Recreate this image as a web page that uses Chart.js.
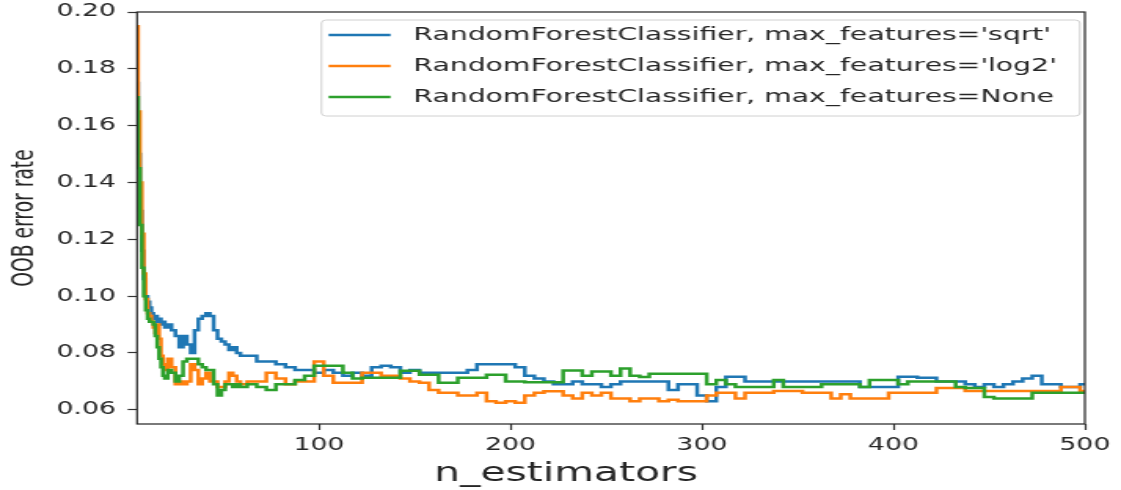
<!DOCTYPE html>
<html>
<head>
<meta charset="utf-8">
<script src="https://cdn.jsdelivr.net/npm/chart.js@4.4.0/dist/chart.umd.min.js"></script>
<style>
  html, body { margin: 0; padding: 0; background: #fff; }
  #frame { width: 1121px; height: 490px; overflow: hidden; }
  /* the reference image is stretched sideways, so draw narrow and stretch */
  #stretch { width: 714px; height: 490px; transform: scaleX(1.57); transform-origin: 0 0; }
</style>
</head>
<body>
<div id="frame"><div id="stretch"><canvas id="oob"></canvas></div></div>
<script>
const range = (a, b, step) => { const r = []; for (let v = a; v <= b; v += step) r.push(v); return r; };

// x grid: every estimator count early on, coarser later
const nEstimators = [...range(5, 20, 1), ...range(22, 60, 2), ...range(65, 500, 5)];

const errSqrt = [
  0.175, 0.150, 0.130, 0.116, 0.106, 0.100, 0.098, 0.096, 0.094, 0.092, 0.093, 0.091, 0.092, 0.090, 0.091, 0.089,
  0.090, 0.088, 0.086, 0.082, 0.086, 0.083, 0.080, 0.088, 0.092, 0.093, 0.094, 0.093, 0.088, 0.085, 0.084, 0.083, 0.081, 0.082, 0.080, 0.079,
  0.079, 0.077, 0.077, 0.076, 0.075, 0.074, 0.074, 0.073, 0.074, 0.073, 0.072, 0.073, 0.072,
  0.075, 0.0755, 0.075, 0.073, 0.074, 0.073, 0.073, 0.073, 0.073, 0.073, 0.074, 0.076, 0.076, 0.076, 0.076,
  0.075, 0.072, 0.071, 0.070, 0.069, 0.069, 0.070, 0.069, 0.069, 0.068, 0.069, 0.070, 0.070, 0.070, 0.070, 0.070, 0.067, 0.069, 0.069, 0.065,
  0.063, 0.068, 0.0716, 0.0716, 0.070, 0.070, 0.070, 0.070, 0.070, 0.070, 0.070, 0.070, 0.070, 0.070, 0.070, 0.070, 0.068, 0.068, 0.068, 0.068,
  0.0716, 0.0716, 0.0713, 0.0713, 0.070, 0.070, 0.070, 0.069, 0.068, 0.069, 0.068, 0.069, 0.070, 0.071, 0.072, 0.069, 0.069, 0.068, 0.068, 0.069
];
const errLog2 = [
  0.195, 0.165, 0.140, 0.122, 0.108, 0.099, 0.094, 0.093, 0.091, 0.089, 0.087, 0.090, 0.085, 0.079, 0.076, 0.074,
  0.078, 0.075, 0.069, 0.070, 0.069, 0.070, 0.076, 0.074, 0.069, 0.071, 0.073, 0.070, 0.070, 0.068, 0.068, 0.070, 0.073, 0.072, 0.070, 0.069,
  0.070, 0.070, 0.073, 0.071, 0.069, 0.070, 0.070, 0.077, 0.072, 0.0695, 0.0695, 0.0695, 0.073,
  0.073, 0.072, 0.072, 0.071, 0.070, 0.0695, 0.067, 0.066, 0.066, 0.065, 0.065, 0.066, 0.063, 0.0625, 0.063,
  0.0625, 0.065, 0.066, 0.0665, 0.0665, 0.065, 0.064, 0.066, 0.065, 0.066, 0.064, 0.064, 0.063, 0.064, 0.064, 0.063, 0.0635, 0.063, 0.063, 0.063,
  0.065, 0.066, 0.066, 0.064, 0.066, 0.066, 0.066, 0.0666, 0.0666, 0.0666, 0.066, 0.066, 0.066, 0.064, 0.0655, 0.064, 0.064, 0.064, 0.064, 0.066,
  0.066, 0.066, 0.066, 0.066, 0.0677, 0.0677, 0.0677, 0.0666, 0.0666, 0.0666, 0.0666, 0.0666, 0.0666, 0.0666, 0.0666, 0.0666, 0.0666, 0.068, 0.068, 0.0666
];
const errNone = [
  0.170, 0.145, 0.125, 0.110, 0.100, 0.095, 0.092, 0.091, 0.091, 0.090, 0.086, 0.082, 0.078, 0.075, 0.072, 0.071,
  0.074, 0.073, 0.070, 0.072, 0.077, 0.078, 0.078, 0.078, 0.076, 0.075, 0.074, 0.074, 0.069, 0.065, 0.067, 0.069, 0.069, 0.068, 0.069, 0.068,
  0.069, 0.068, 0.067, 0.069, 0.069, 0.0705, 0.072, 0.0755, 0.0755, 0.0755, 0.073, 0.071, 0.0713,
  0.0713, 0.0713, 0.0713, 0.0737, 0.0737, 0.0723, 0.0723, 0.0695, 0.0695, 0.0713, 0.0713, 0.0713, 0.0723, 0.0723, 0.070,
  0.070, 0.0697, 0.0697, 0.0697, 0.0697, 0.0738, 0.0738, 0.072, 0.0735, 0.0735, 0.072, 0.0745, 0.072, 0.0715, 0.0727, 0.0727, 0.0727, 0.0727, 0.0727, 0.0727,
  0.069, 0.0705, 0.069, 0.068, 0.068, 0.068, 0.068, 0.0705, 0.068, 0.068, 0.068, 0.068, 0.069, 0.069, 0.069, 0.069, 0.068, 0.0705, 0.0705, 0.0705,
  0.069, 0.070, 0.070, 0.070, 0.070, 0.070, 0.068, 0.0677, 0.0677, 0.0645, 0.064, 0.064, 0.064, 0.064, 0.066, 0.066, 0.066, 0.066, 0.066, 0.066
];

const seriesLabels = [
  "RandomForestClassifier, max_features='sqrt'",
  "RandomForestClassifier, max_features='log2'",
  "RandomForestClassifier, max_features=None"
];
const seriesColors = ["#1f77b4", "#ff7f0e", "#2ca02c"];
const xTicks = [100, 200, 300, 400, 500];
const yTicks = [0.06, 0.08, 0.10, 0.12, 0.14, 0.16, 0.18, 0.20];

const FONT = '"DejaVu Sans", sans-serif';
Chart.defaults.font.family = FONT;
Chart.defaults.color = "#262626";

const toPoints = ys => nEstimators.map((n, i) => ({ x: n, y: ys[i] }));

// spines on all four sides
const spines = {
  id: "spines",
  afterDatasetsDraw(chart) {
    const { ctx, chartArea: a } = chart;
    ctx.save();
    ctx.strokeStyle = "#222";
    ctx.lineWidth = 1.2;
    ctx.strokeRect(a.left, a.top, a.right - a.left, a.bottom - a.top);
    ctx.restore();
  }
};

// x label sits a little left of the axis centre in the reference
const xLabel = {
  id: "xLabel",
  afterDraw(chart) {
    const { ctx } = chart;
    ctx.save();
    ctx.font = "26px " + FONT;
    ctx.fillStyle = "#262626";
    ctx.textAlign = "center";
    ctx.textBaseline = "middle";
    ctx.fillText("n_estimators", 360.5, 474);
    ctx.restore();
  }
};

// matplotlib-style legend box in the upper right
const boxLegend = {
  id: "boxLegend",
  afterDraw(chart) {
    const { ctx, chartArea: a } = chart;
    const sets = chart.data.datasets;
    ctx.save();
    ctx.font = "18px " + FONT;
    const textW = Math.max(...sets.map(d => ctx.measureText(d.label).width));
    const padL = 4.5, handle = 39.5, gap = 14.6, padR = 14.6;
    const right = a.right - 3.2, top = 20, bottom = 116;
    const left = right - (padL + handle + gap + textW + padR);
    ctx.fillStyle = "rgba(255,255,255,0.8)";
    ctx.strokeStyle = "#d0d0d0";
    ctx.lineWidth = 1;
    ctx.beginPath();
    ctx.roundRect(left, top, right - left, bottom - top, 3);
    ctx.fill();
    ctx.stroke();
    const rows = [35, 66, 97];
    sets.forEach((d, i) => {
      ctx.strokeStyle = d.borderColor;
      ctx.lineWidth = 2.4;
      ctx.beginPath();
      ctx.moveTo(left + padL, rows[i]);
      ctx.lineTo(left + padL + handle, rows[i]);
      ctx.stroke();
      ctx.fillStyle = "#262626";
      ctx.textBaseline = "middle";
      ctx.fillText(d.label, left + padL + handle + gap, rows[i]);
    });
    ctx.restore();
  }
};

new Chart(document.getElementById("oob"), {
  type: "line",
  data: {
    datasets: [
      { label: seriesLabels[0], data: toPoints(errSqrt), borderColor: seriesColors[0], order: 2 },
      { label: seriesLabels[1], data: toPoints(errLog2), borderColor: seriesColors[1], order: 1 },
      { label: seriesLabels[2], data: toPoints(errNone), borderColor: seriesColors[2], order: 0 }
    ]
  },
  options: {
    responsive: true,
    maintainAspectRatio: false,
    animation: false,
    parsing: false,
    layout: { padding: { left: 0, right: 23, top: 12, bottom: 0 } },
    elements: {
      line: { borderWidth: 2.5, stepped: "middle", fill: false },
      point: { radius: 0, hoverRadius: 0 }
    },
    plugins: { legend: { display: false }, tooltip: { enabled: false } },
    scales: {
      x: {
        type: "linear",
        min: 5,
        max: 500,
        afterBuildTicks: s => { s.ticks = xTicks.map(v => ({ value: v })); },
        afterFit: s => { s.height = 66; s.paddingLeft = 0; s.paddingRight = 0; },
        border: { display: false },
        grid: { drawOnChartArea: false, tickLength: 6, color: "#333", tickWidth: 1.2 },
        ticks: { font: { size: 17 }, padding: 5, maxRotation: 0, callback: v => String(v) },
        title: { display: false, text: "n_estimators" }
      },
      y: {
        min: 0.055,
        max: 0.20,
        afterBuildTicks: s => { s.ticks = yTicks.map(v => ({ value: v })); },
        afterFit: s => { s.width = 87.3; s.paddingTop = 0; s.paddingBottom = 0; },
        border: { display: false },
        grid: { drawOnChartArea: false, tickLength: 6, color: "#333", tickWidth: 1.2 },
        ticks: { font: { size: 17 }, padding: 7.5, callback: v => v.toFixed(2) },
        title: { display: true, text: "OOB error rate", font: { size: 18.7 }, padding: { top: 4.5, bottom: 0 } }
      }
    }
  },
  plugins: [spines, boxLegend, xLabel]
});
</script>
</body>
</html>
